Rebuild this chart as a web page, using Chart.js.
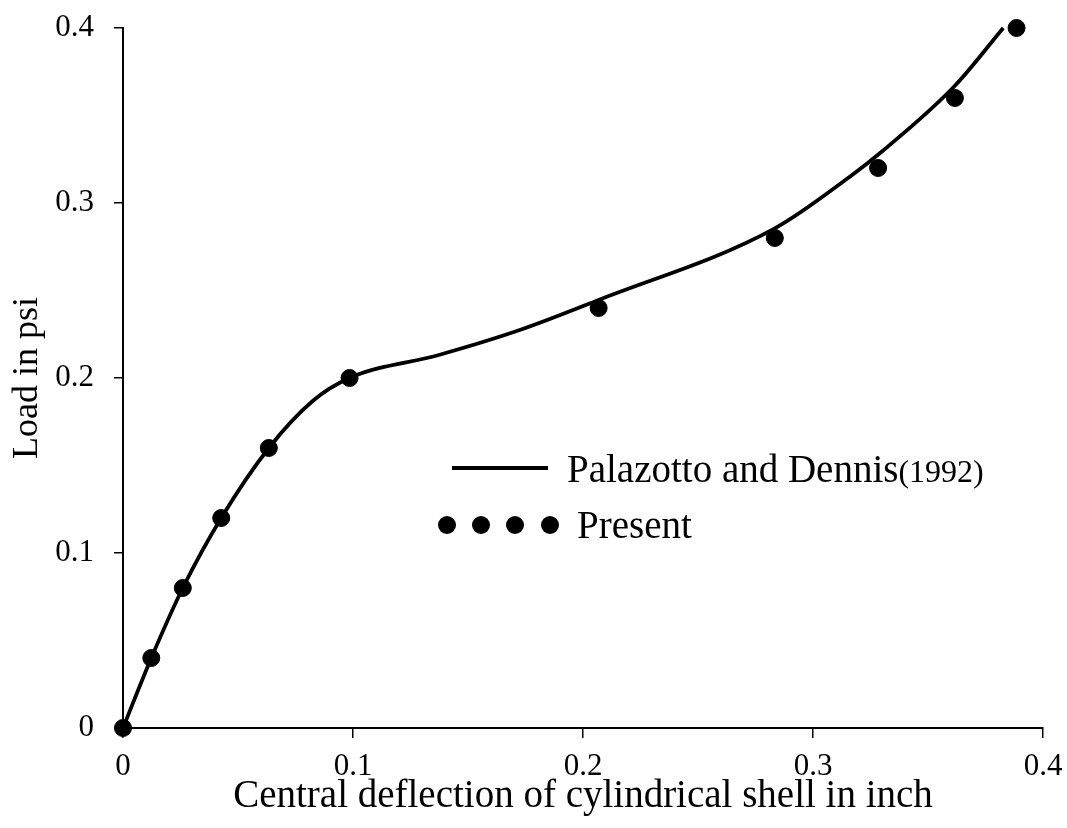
<!DOCTYPE html>
<html>
<head>
<meta charset="utf-8">
<script src="https://cdn.jsdelivr.net/npm/chart.js@4/dist/chart.umd.min.js"></script>
<style>
  body { margin: 0; background: #fff; }
  #wrap { position: relative; width: 1067px; height: 828px; font-family: 'Times New Roman', 'Liberation Serif', serif; color: #000; }
  #chart { position: absolute; left: 0; top: 0; }
  .leg-line { position: absolute; left: 452px; top: 466px; width: 96px; height: 4px; background: #000; }
  .leg-dot { position: absolute; top: 516px; width: 18px; height: 18px; border-radius: 50%; background: #000; }
  .leg-text { position: absolute; font-size: 39px; line-height: 39px; white-space: nowrap; }
  .leg-text small { font-size: 32px; }
</style>
</head>
<body>
<div id="wrap">
  <canvas id="chart" width="1067" height="828"></canvas>
  <div class="leg-line"></div>
  <div class="leg-dot" style="left:438px"></div>
  <div class="leg-dot" style="left:472px"></div>
  <div class="leg-dot" style="left:506px"></div>
  <div class="leg-dot" style="left:541px"></div>
  <div class="leg-text" style="left:567px; top:449px">Palazotto and Dennis<small>(1992)</small></div>
  <div class="leg-text" style="left:577px; top:505px">Present</div>
</div>
<script>
// Palazotto and Dennis (1992) curve
const refX = [0, 0.0123, 0.026, 0.0427, 0.0634, 0.0826, 0.0985, 0.1377, 0.1725, 0.2068, 0.2834, 0.316, 0.3305, 0.3617, 0.3827];
const refY = [0, 0.04, 0.08, 0.12, 0.16, 0.187, 0.2, 0.2133, 0.2274, 0.2446, 0.2855, 0.315, 0.330, 0.367, 0.40];

// present results
const presentX = [0, 0.0123, 0.026, 0.0427, 0.0634, 0.0985, 0.2068, 0.2834, 0.3283, 0.3617, 0.3885];
const presentY = [0, 0.04, 0.08, 0.12, 0.16, 0.20, 0.24, 0.28, 0.32, 0.36, 0.40];

const xTicks = [0, 0.1, 0.2, 0.3, 0.4];
const yTicks = [0, 0.1, 0.2, 0.3, 0.4];

const serif = "'Times New Roman', 'Liberation Serif', serif";
const fmt = v => String(Number(v.toFixed(1)));

new Chart(document.getElementById('chart'), {
  type: 'scatter',
  data: {
    datasets: [
      {
        label: 'Palazotto and Dennis(1992)',
        data: refX.map((x, i) => ({ x, y: refY[i] })),
        showLine: true,
        borderColor: '#000',
        borderWidth: 3.8,
        pointRadius: 0,
        cubicInterpolationMode: 'monotone',
        clip: false
      },
      {
        label: 'Present',
        data: presentX.map((x, i) => ({ x, y: presentY[i] })),
        showLine: false,
        backgroundColor: '#000',
        borderColor: '#000',
        pointRadius: 8.5,
        clip: false
      }
    ]
  },
  options: {
    responsive: false,
    animation: false,
    layout: { padding: { top: 28, right: 24, left: 0, bottom: 0 } },
    plugins: { legend: { display: false }, tooltip: { enabled: false } },
    scales: {
      x: {
        type: 'linear', min: 0, max: 0.4,
        afterBuildTicks: s => { s.ticks = xTicks.map(value => ({ value })); },
        afterFit: s => { s.height = 100; s.paddingLeft = 0; s.paddingRight = 0; },
        ticks: { callback: fmt, color: '#000', font: { family: serif, size: 31 }, padding: 10, maxRotation: 0 },
        grid: { display: true, drawOnChartArea: false, drawTicks: true, tickLength: 10, color: '#000', lineWidth: 1.5 },
        border: { color: '#000', width: 2 },
        title: {
          display: true, text: 'Central deflection of cylindrical shell in inch',
          color: '#000', font: { family: serif, size: 39, lineHeight: 1.2 }, padding: { top: 0, bottom: 8 }
        }
      },
      y: {
        type: 'linear', min: 0, max: 0.4,
        afterBuildTicks: s => { s.ticks = yTicks.map(value => ({ value })); },
        afterFit: s => { s.width = 123; s.paddingTop = 0; s.paddingBottom = 0; },
        ticks: { callback: fmt, color: '#000', font: { family: serif, size: 31 }, padding: 20 },
        grid: { display: true, drawOnChartArea: false, drawTicks: true, tickLength: 9, color: '#000', lineWidth: 1.5 },
        border: { color: '#000', width: 2 },
        title: {
          display: true, text: 'Load in psi',
          color: '#000', font: { family: serif, size: 36, lineHeight: 1.2 }, padding: { top: 6, bottom: 0 }
        }
      }
    }
  }
});
</script>
</body>
</html>
